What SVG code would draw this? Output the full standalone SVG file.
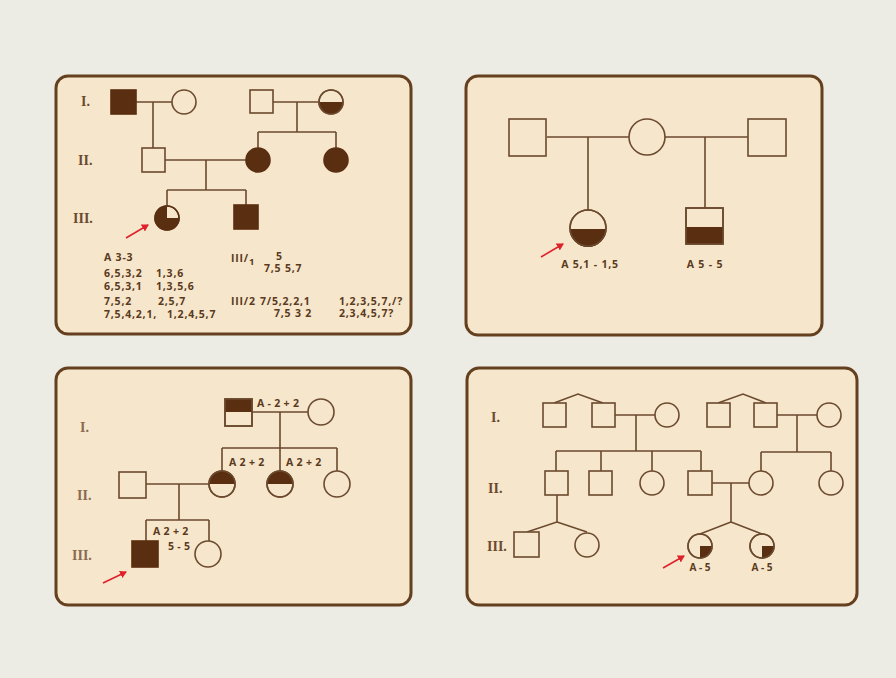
<svg xmlns="http://www.w3.org/2000/svg" width="896" height="678" viewBox="0 0 896 678">
<style>
.bg{fill:#ecebe4}
.panel{fill:#f6e6cc;stroke:#64401f;stroke-width:3}
.s{fill:#f6e6cc;stroke:#6b4a2e;stroke-width:1.6}
.f{fill:#5a2e10;stroke:#5a2e10;stroke-width:1.6}
.fill{fill:#5a2e10;stroke:none}
.ln{fill:none;stroke:#6b4a2e;stroke-width:1.6}
.t{font-family:"Open Sans","Liberation Sans",sans-serif;font-weight:bold;font-size:10px;fill:#5a3a20}
.t1{font-family:"Open Sans","Liberation Sans",sans-serif;font-weight:bold;font-size:10.5px;letter-spacing:0.8px;fill:#5a3a20}
.t3{font-family:"Open Sans","Liberation Sans",sans-serif;font-weight:bold;font-size:10.5px;letter-spacing:0.3px;fill:#5a3a20}
.lab{font-family:"Liberation Serif",serif;font-weight:bold;font-size:14px;fill:#6b4a2e}
.lab2{font-family:"Liberation Serif",serif;font-weight:bold;font-size:14px;fill:#8a6a50}
.arr{stroke:#e0202a;stroke-width:1.6;fill:none}
</style>
<defs>
<marker id="ah" markerWidth="8" markerHeight="8" refX="6" refY="4" orient="auto" markerUnits="userSpaceOnUse">
<path d="M0,0 L7,4 L0,8 Z" fill="#e0202a"/>
</marker>
</defs>
<rect class="bg" x="0" y="0" width="896" height="678"/>

<!-- Panel 1 -->
<g id="panel1">
<rect class="panel" x="56" y="76" width="355" height="258" rx="12"/>
<text class="lab" x="81" y="106">I.</text>
<text class="lab" x="78" y="165">II.</text>
<text class="lab" x="73" y="223">III.</text>
</g>
<g id="p1-connectors">
<path class="ln" d="M136,102 H172 M153,102 V148 M273,102 H319 M297,102 V132 M258,132 H336 M258,132 V148 M336,132 V148 M165,160 H246 M206,160 V190 M167,190 H246 M167,190 V206 M246,190 V205"/>
</g>
<g id="p1-I1"><rect class="f" x="111" y="90" width="25" height="24"/></g>
<g id="p1-I2"><circle class="s" cx="184" cy="102" r="12"/></g>
<g id="p1-I3"><rect class="s" x="250" y="90" width="23" height="23"/></g>
<g id="p1-I4"><circle class="s" cx="331" cy="102" r="12"/><path class="fill" d="M319,102 A12,12 0 0 0 343,102 Z"/><circle cx="331" cy="102" r="12" fill="none" stroke="#6b4a2e" stroke-width="1.6"/></g>
<g id="p1-II1"><rect class="s" x="142" y="148" width="23" height="24"/></g>
<g id="p1-II2"><circle class="f" cx="258" cy="160" r="12"/></g>
<g id="p1-II3"><circle class="f" cx="336" cy="160" r="12"/></g>
<g id="p1-III1"><circle class="s" cx="167" cy="218" r="12"/><path class="fill" d="M167,218 L167,206 A12,12 0 1 0 179,218 Z"/><circle cx="167" cy="218" r="12" fill="none" stroke="#5a2e10" stroke-width="1.6"/></g>
<g id="p1-III2"><rect class="f" x="234" y="205" width="24" height="24"/></g>
<line class="arr" x1="126" y1="238" x2="148" y2="225" marker-end="url(#ah)"/>
<g id="p1-text">
<text class="t1" x="104" y="261" letter-spacing="0">A 3-3</text>
<text class="t1" x="104" y="277">6,5,3,2</text><text class="t1" x="156" y="277">1,3,6</text>
<text class="t1" x="104" y="290">6,5,3,1</text><text class="t1" x="156" y="290">1,3,5,6</text>
<text class="t1" x="104" y="305">7,5,2</text><text class="t1" x="158" y="305">2,5,7</text>
<text class="t1" x="104" y="318">7,5,4,2,1,</text><text class="t1" x="167" y="318">1,2,4,5,7</text>
<text class="t1" x="231" y="262" letter-spacing="0">III/<tspan font-size="9.5" dy="3">1</tspan></text>
<text class="t1" x="276" y="260">5</text>
<text class="t1" x="264" y="272">7,5 5,7</text>
<text class="t1" x="231" y="305" letter-spacing="0">III/2</text>
<text class="t1" x="260" y="305">7/5,2,2,1</text>
<text class="t1" x="274" y="317">7,5 3 2</text>
<text class="t1" x="339" y="305">1,2,3,5,7,/?</text>
<text class="t1" x="339" y="317">2,3,4,5,7?</text>
</g>

<!-- Panel 2 -->
<g id="panel2"><rect class="panel" x="466" y="76" width="356" height="259" rx="12"/></g>
<g id="p2-connectors">
<path class="ln" d="M547,137 H629 M665,137 H748 M588,137 V210 M705,137 V208"/>
</g>
<g id="p2-m1"><rect class="s" x="509" y="119" width="37" height="37"/></g>
<g id="p2-f"><circle class="s" cx="647" cy="137" r="18"/></g>
<g id="p2-m2"><rect class="s" x="748" y="119" width="38" height="37"/></g>
<g id="p2-d"><circle class="s" cx="588" cy="228" r="18"/><path class="fill" d="M570,229 A18,18 0 0 0 606,229 Z"/><circle cx="588" cy="228" r="18" fill="none" stroke="#6b4a2e" stroke-width="1.6"/></g>
<g id="p2-s"><rect class="s" x="686" y="208" width="37" height="36"/><rect class="fill" x="686" y="227" width="37" height="17"/><rect x="686" y="208" width="37" height="36" fill="none" stroke="#6b4a2e" stroke-width="1.6"/></g>
<line class="arr" x1="541" y1="257" x2="563" y2="244" marker-end="url(#ah)"/>
<text class="t1" x="590" y="268" text-anchor="middle">A 5,1 - 1,5</text>
<text class="t1" x="705" y="268" text-anchor="middle">A 5 - 5</text>

<!-- Panel 3 -->
<g id="panel3">
<rect class="panel" x="56" y="368" width="355" height="237" rx="12"/>
<text class="lab2" x="80" y="432">I.</text>
<text class="lab2" x="77" y="500">II.</text>
<text class="lab2" x="72" y="560">III.</text>
</g>
<g id="p3-connectors">
<path class="ln" d="M252,412 H308 M280,412 V448 M222,448 H337 M222,448 V471 M280,448 V471 M337,448 V471 M146,484 H209 M179,484 V520 M146,520 H209 M146,520 V541 M209,520 V541"/>
</g>
<g id="p3-I1"><rect class="s" x="225" y="399" width="27" height="27"/><rect class="fill" x="225" y="399" width="27" height="13"/><rect x="225" y="399" width="27" height="27" fill="none" stroke="#6b4a2e" stroke-width="1.6"/></g>
<g id="p3-I2"><circle class="s" cx="321" cy="412" r="13"/></g>
<g id="p3-II1"><rect class="s" x="119" y="472" width="27" height="26"/></g>
<g id="p3-II2"><circle class="s" cx="222" cy="484" r="13"/><path class="fill" d="M209,484 A13,13 0 0 1 235,484 Z"/><circle cx="222" cy="484" r="13" fill="none" stroke="#6b4a2e" stroke-width="1.6"/></g>
<g id="p3-II3"><circle class="s" cx="280" cy="484" r="13"/><path class="fill" d="M267,484 A13,13 0 0 1 293,484 Z"/><circle cx="280" cy="484" r="13" fill="none" stroke="#6b4a2e" stroke-width="1.6"/></g>
<g id="p3-II4"><circle class="s" cx="337" cy="484" r="13"/></g>
<g id="p3-III1"><rect class="f" x="132" y="541" width="26" height="26"/></g>
<g id="p3-III2"><circle class="s" cx="208" cy="554" r="13"/></g>
<text class="t3" x="257" y="407">A - 2 + 2</text>
<text class="t3" x="229" y="466">A 2 + 2</text>
<text class="t3" x="286" y="466">A 2 + 2</text>
<text class="t3" x="153" y="535">A 2 + 2</text>
<text class="t3" x="168" y="550">5 - 5</text>
<line class="arr" x1="103" y1="583" x2="126" y2="572" marker-end="url(#ah)"/>

<!-- Panel 4 -->
<g id="panel4">
<rect class="panel" x="467" y="368" width="390" height="237" rx="12"/>
<text class="lab" x="491" y="422">I.</text>
<text class="lab" x="488" y="493">II.</text>
<text class="lab" x="487" y="551">III.</text>
</g>
<g id="p4-connectors">
<path class="ln" d="M554,403 L578,394 L603,403 M615,415 H655 M636,415 V451 M556,451 H701 M556,451 V471 M601,451 V471 M652,451 V471 M701,451 V471 M718,403 L743,394 L766,403 M777,415 H817 M797,415 V452 M761,452 H831 M761,452 V471 M831,452 V471 M712,483 H749 M731,483 V522 L700,534 M731,522 L762,534 M557,495 V522 L527,532 M557,522 L587,532"/>
</g>
<g id="p4-I1"><rect class="s" x="543" y="403" width="23" height="24"/></g>
<g id="p4-I2"><rect class="s" x="592" y="403" width="23" height="24"/></g>
<g id="p4-I3"><circle class="s" cx="667" cy="415" r="12"/></g>
<g id="p4-I4"><rect class="s" x="707" y="403" width="23" height="24"/></g>
<g id="p4-I5"><rect class="s" x="754" y="403" width="23" height="24"/></g>
<g id="p4-I6"><circle class="s" cx="829" cy="415" r="12"/></g>
<g id="p4-II1"><rect class="s" x="545" y="471" width="23" height="24"/></g>
<g id="p4-II2"><rect class="s" x="589" y="471" width="23" height="24"/></g>
<g id="p4-II3"><circle class="s" cx="652" cy="483" r="12"/></g>
<g id="p4-II4"><rect class="s" x="688" y="471" width="24" height="24"/></g>
<g id="p4-II5"><circle class="s" cx="761" cy="483" r="12"/></g>
<g id="p4-II6"><circle class="s" cx="831" cy="483" r="12"/></g>
<g id="p4-III1"><rect class="s" x="514" y="532" width="25" height="25"/></g>
<g id="p4-III2"><circle class="s" cx="587" cy="545" r="12"/></g>
<g id="p4-III3"><circle class="s" cx="700" cy="546" r="12"/><path class="fill" d="M700,546 L712,546 A12,12 0 0 1 700,558 Z"/><circle cx="700" cy="546" r="12" fill="none" stroke="#6b4a2e" stroke-width="1.6"/></g>
<g id="p4-III4"><circle class="s" cx="762" cy="546" r="12"/><path class="fill" d="M762,546 L774,546 A12,12 0 0 1 762,558 Z"/><circle cx="762" cy="546" r="12" fill="none" stroke="#6b4a2e" stroke-width="1.6"/></g>
<text class="t" x="700" y="571" text-anchor="middle">A - 5</text>
<text class="t" x="762" y="571" text-anchor="middle">A - 5</text>
<line class="arr" x1="663" y1="568" x2="684" y2="556" marker-end="url(#ah)"/>
</svg>
